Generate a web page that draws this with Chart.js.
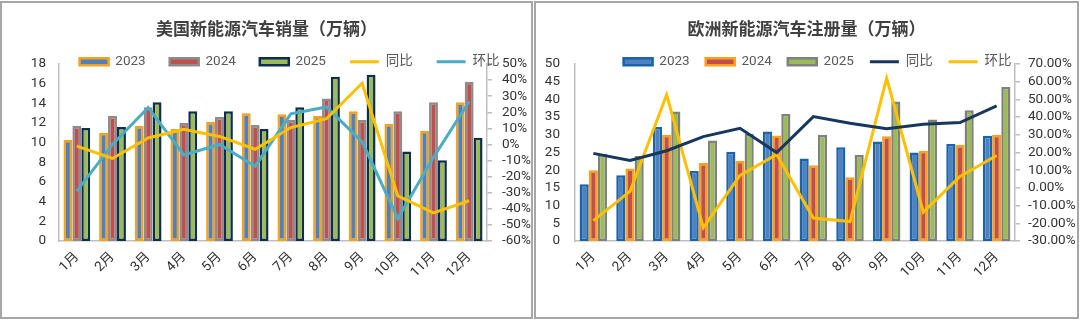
<!DOCTYPE html>
<html>
<head>
<meta charset="utf-8">
<script src="https://cdn.jsdelivr.net/npm/chart.js@4/dist/chart.umd.min.js"></script>
<style>
  body { margin: 0; background: #fff; }
  .panel { position: absolute; top: 1px; height: 318px; box-sizing: border-box; border: 2px solid #A6A6A6; background: #fff; }
  #p1 { left: 0; width: 533px; }
  #p2 { left: 534px; width: 545px; }
</style>
</head>
<body>
<div id="p1" class="panel"><canvas id="c1"></canvas></div>
<div id="p2" class="panel"><canvas id="c2"></canvas></div>
<script>
const months = ["1月", "2月", "3月", "4月", "5月", "6月", "7月", "8月", "9月", "10月", "11月", "12月"];

// 美国新能源汽车销量（万辆）
const usTitle = "美国新能源汽车销量（万辆）";
const us2023 = [10.3, 11.0, 11.7, 11.4, 12.1, 13.0, 12.9, 12.7, 13.2, 11.9, 11.2, 14.1];
const us2024 = [11.7, 12.7, 13.6, 12.0, 12.6, 11.8, 12.3, 14.5, 12.3, 13.2, 14.1, 16.2];
const us2025 = [11.5, 11.6, 14.1, 13.2, 13.2, 11.4, 13.6, 16.7, 16.9, 9.1, 8.2, 10.5];
const usYoy = [-1, -8.7, 4, 9.4, 5, -3, 10.5, 16, 38, -32, -42.5, -35];
const usMom = [-29, 0, 23, -6.5, 0, -13.5, 19, 23.3, 1.6, -46, -8, 26.7];

// 欧洲新能源汽车注册量（万辆）
const euTitle = "欧洲新能源汽车注册量（万辆）";
const eu2023 = [16.0, 18.6, 32.2, 19.8, 25.2, 30.9, 23.3, 26.5, 28.1, 25.0, 27.4, 29.7];
const eu2024 = [20.0, 20.5, 30.0, 22.0, 22.7, 29.8, 21.4, 18.0, 29.6, 25.5, 27.1, 30.0];
const eu2025 = [24.6, 24.0, 36.6, 28.4, 30.3, 35.9, 30.0, 24.3, 39.4, 34.3, 36.9, 43.5];
const euYoy = [19.5, 15.5, 21, 29, 33.7, 20, 40.3, 36.5, 33.4, 36, 36.9, 46.3];
const euMom = [-18.5, -2, 52.6, -22.4, 7.1, 18.9, -17, -19, 62, -13.7, 6.5, 18.3];

Chart.defaults.font.family = "Roboto, 'Noto Sans CJK SC', sans-serif";
Chart.defaults.font.size = 13.5;
Chart.defaults.color = "#333333";

const axisColor = "#BFBFBF";

// moves the legend sideways (title stays put) and gives its clip box some room below
const legendShift = {
  id: "legendShift",
  afterLayout(chart, args, opts) {
    const lg = chart.legend;
    if (!lg) return;
    lg.left += opts.dx;
    lg.right += opts.dx;
    lg.bottom += 14;
  }
};

function legendItems(chart) {
  const items = Chart.defaults.plugins.legend.labels.generateLabels(chart);
  items.sort((a, b) => a.datasetIndex - b.datasetIndex);
  items.forEach(it => {
    const ds = chart.data.datasets[it.datasetIndex];
    if (ds.type === "line") {
      it.pointStyle = "line";
      it.strokeStyle = ds.borderColor;
      it.lineWidth = 3;
    } else {
      it.pointStyle = "rect";
    }
  });
  return items;
}

function barSet(label, data, fill, border) {
  return {
    type: "bar", label: label, data: data,
    backgroundColor: fill, borderColor: border, borderWidth: 2.5,
    borderSkipped: false, yAxisID: "y",
    barPercentage: 1.0, categoryPercentage: 0.75
  };
}

function lineSet(label, data, color) {
  return {
    type: "line", label: label, data: data,
    borderColor: color, backgroundColor: color, borderWidth: 3,
    pointRadius: 0, tension: 0, yAxisID: "y1", order: -1
  };
}

function makeChart(id, s) {
  const ctx = document.getElementById(id).getContext("2d");
  return new Chart(ctx, {
    data: { labels: months, datasets: s.datasets },
    plugins: [legendShift],
    options: {
      animation: false,
      responsive: true,
      maintainAspectRatio: false,
      layout: { padding: 0 },
      plugins: {
        title: {
          display: true, text: s.title, color: "#404040",
          font: { family: "'Noto Sans CJK SC', sans-serif", size: 17, weight: "bold" },
          padding: { top: 15.5, bottom: s.titleBottom }
        },
        legend: {
          display: true, position: "top", maxHeight: s.legendHeight,
          labels: {
            usePointStyle: true, pointStyleWidth: 29, boxHeight: 7,
            padding: s.legendPad, color: "#595959", font: { size: 13.5 },
            generateLabels: legendItems
          }
        },
        legendShift: { dx: s.legendDx },
        tooltip: { enabled: false }
      },
      scales: {
        x: {
          grid: { display: false, drawTicks: false },
          border: { color: axisColor, width: 1.5 },
          ticks: { autoSkip: false, maxRotation: 45, minRotation: 45, padding: 8 },
          afterFit: sc => { sc.height = 76; }
        },
        y: {
          position: "left", min: s.yMin, max: s.yMax,
          grid: { display: false, drawTicks: false },
          border: { color: axisColor, width: 1.5 },
          ticks: { autoSkip: false, stepSize: s.yStep, padding: s.yPad },
          afterFit: sc => { sc.width = s.yWidth; }
        },
        y1: {
          position: "right", min: s.y1Min, max: s.y1Max,
          grid: { display: true, drawOnChartArea: false, drawTicks: true, tickLength: 5, color: axisColor, lineWidth: 1.5 },
          border: { color: axisColor, width: 1.5 },
          ticks: { autoSkip: false, stepSize: 10, padding: s.y1Pad, callback: s.pct },
          afterFit: sc => { sc.width = s.y1Width; }
        }
      }
    }
  });
}

makeChart("c1", {
  title: usTitle, titleBottom: -7.9, legendHeight: 33, legendPad: 24, legendDx: 23,
  yMin: 0, yMax: 18, yStep: 2, yPad: 13, yWidth: 57,
  y1Min: -60, y1Max: 50, y1Pad: 10, y1Width: 44,
  pct: v => v + "%",
  datasets: [
    barSet("2023", us2023, "#4F81BD", "#F9A11B"),
    barSet("2024", us2024, "#C0504D", "#8C8C8C"),
    barSet("2025", us2025, "#9BBB59", "#0F2D52"),
    lineSet("同比", usYoy, "#FFC000"),
    lineSet("环比", usMom, "#4BACC6")
  ]
});

makeChart("c2", {
  title: euTitle, titleBottom: 0.1, legendHeight: 25, legendPad: 16, legendDx: 11,
  yMin: 0, yMax: 50, yStep: 5, yPad: 15, yWidth: 39,
  y1Min: -30, y1Max: 70, y1Pad: 8, y1Width: 62,
  pct: v => v.toFixed(2) + "%",
  datasets: [
    barSet("2023", eu2023, "#4F81BD", "#1A64AD"),
    barSet("2024", eu2024, "#C0504D", "#F9A11B"),
    barSet("2025", eu2025, "#9BBB59", "#808080"),
    lineSet("同比", euYoy, "#17375E"),
    lineSet("环比", euMom, "#FFC000")
  ]
});
</script>
</body>
</html>
